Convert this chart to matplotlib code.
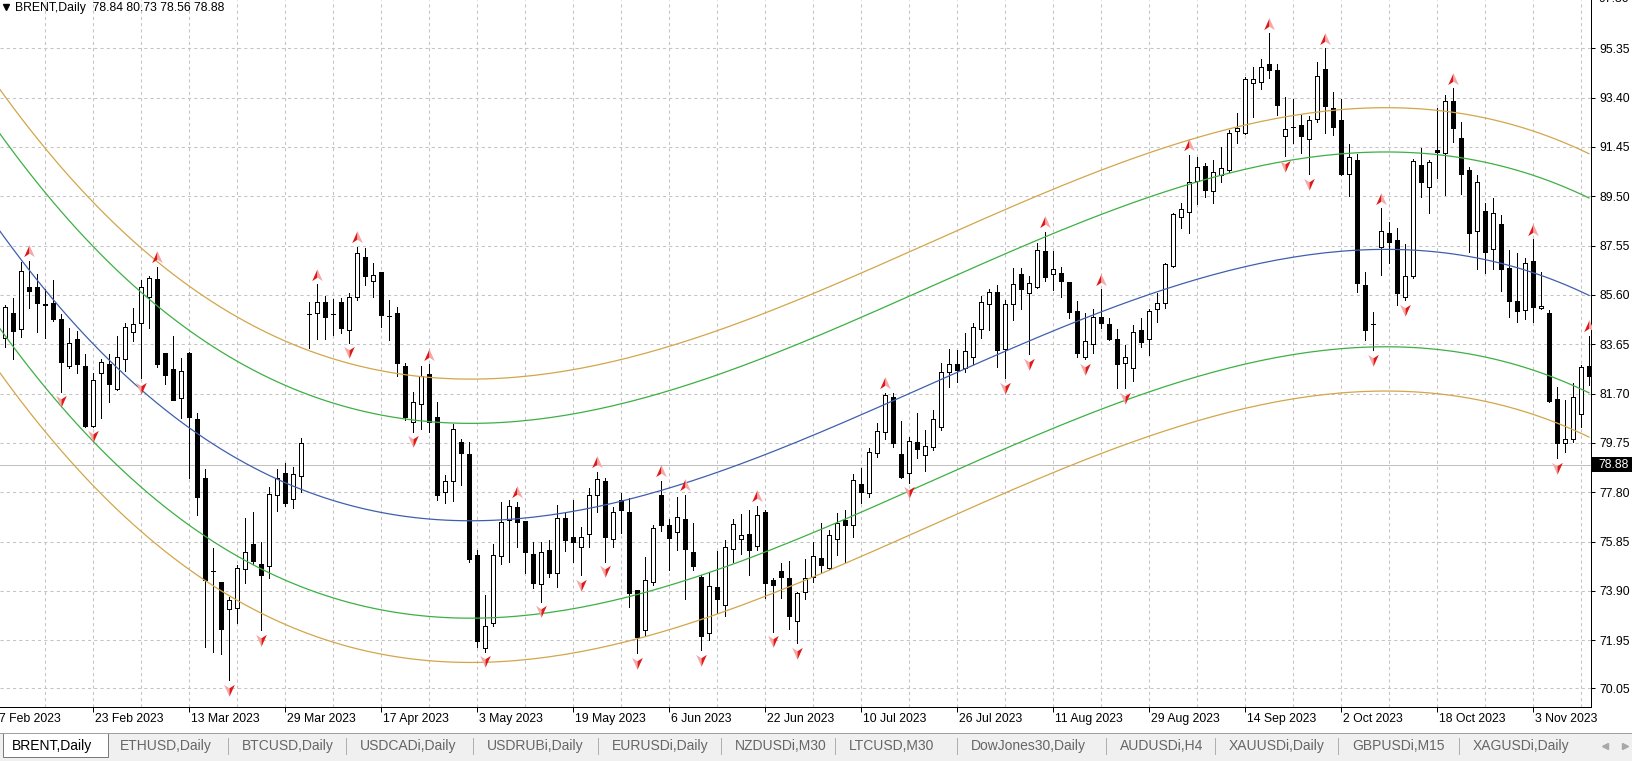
import numpy as np
import matplotlib
matplotlib.use("Agg")
import matplotlib.pyplot as plt
from matplotlib.path import Path
from matplotlib.patches import Rectangle
from matplotlib.lines import Line2D

plt.rcParams['font.family'] = ['Liberation Sans', 'DejaVu Sans']

# ---- data ----
symbol = "BRENT,Daily"
last_ohlc = [78.84, 80.73, 78.56, 78.88]
bid = 78.88

# daily bars, bar 0 = 8 Feb 2023
opens = [
    83.88, 84.87, 84.24, 85.90, 85.90, 85.23, 85.27, 84.63, 82.79, 83.84,
    82.79, 80.42, 82.53, 82.87, 81.88, 83.05, 84.12, 84.50, 85.53, 86.21,
    83.29, 82.66, 81.51, 83.29, 80.68, 78.35, 74.70, 74.24, 73.17, 73.21,
    74.75, 75.75, 74.96, 74.89, 77.69, 78.55, 77.53, 78.44, 84.84, 84.90,
    85.31, 84.83, 85.33, 84.21, 85.53, 87.11, 86.15, 86.49, 84.77, 84.87,
    82.79, 80.59, 81.29, 82.46, 80.76, 77.80, 78.26, 79.77, 79.31, 75.32,
    71.63, 72.62, 75.28, 76.70, 77.23, 76.66, 75.36, 74.17, 75.52, 74.59,
    76.77, 76.02, 75.65, 76.15, 77.69, 78.24, 75.94, 77.49, 77.03, 73.94,
    72.35, 74.26, 77.69, 76.50, 76.21, 76.73, 75.45, 74.46, 72.25, 74.04,
    73.34, 75.54, 75.94, 76.15, 75.67, 77.00, 74.33, 74.69, 74.40, 72.72,
    73.87, 74.46, 75.19, 74.79, 75.94, 76.70, 76.50, 78.11, 77.76, 79.34,
    80.17, 81.58, 79.31, 78.55, 79.77, 79.27, 79.57, 80.39, 82.56, 82.87,
    82.70, 83.16, 84.24, 85.24, 85.73, 83.45, 85.24, 86.41, 85.69, 85.93,
    87.33, 86.41, 86.45, 86.10, 84.96, 83.16, 83.66, 84.74, 84.45, 83.86,
    82.89, 82.70, 84.21, 83.84, 85.03, 85.27, 86.74, 88.69, 88.89, 90.10,
    90.69, 89.72, 90.34, 90.54, 92.09, 92.01, 93.99, 94.00, 94.73, 94.49,
    91.88, 92.22, 92.31, 91.78, 92.56, 94.53, 92.98, 92.51, 90.36, 90.93,
    85.99, 84.45, 87.50, 88.06, 87.77, 85.53, 86.34, 90.73, 89.87, 91.32,
    91.22, 93.26, 91.82, 90.53, 88.13, 88.91, 87.40, 88.40, 86.67, 85.35,
    85.00, 86.94, 85.09, 84.87, 81.47, 79.75, 79.90, 80.89, 82.79,
]
highs = [
    85.20, 85.46, 86.89, 86.94, 86.43, 85.82, 86.19, 84.83, 84.28, 84.17,
    83.25, 82.50, 83.07, 83.25, 83.97, 84.50, 85.09, 86.19, 86.35, 86.72,
    83.29, 83.97, 83.09, 83.36, 80.92, 78.70, 75.58, 74.24, 73.67, 74.92,
    76.77, 77.03, 75.85, 78.02, 78.70, 78.97, 78.81, 79.93, 85.33, 86.02,
    85.56, 85.42, 85.49, 85.66, 87.51, 87.47, 86.85, 86.49, 85.40, 85.13,
    82.89, 81.77, 82.79, 82.85, 81.35, 78.48, 80.48, 79.89, 79.77, 75.52,
    73.74, 75.75, 77.43, 77.49, 77.43, 76.66, 75.85, 75.82, 75.91, 77.29,
    76.97, 77.49, 76.44, 77.95, 78.61, 78.38, 77.23, 77.78, 77.56, 73.94,
    75.23, 76.50, 78.24, 76.73, 77.62, 77.69, 76.57, 74.53, 74.66, 75.49,
    75.91, 76.73, 76.93, 77.10, 77.26, 77.10, 74.40, 74.99, 75.09, 73.87,
    75.15, 75.85, 76.60, 76.31, 76.97, 77.10, 78.52, 78.77, 79.53, 80.55,
    81.73, 81.71, 80.63, 79.97, 80.92, 80.26, 81.05, 82.89, 83.45, 83.42,
    84.08, 84.48, 85.57, 85.82, 85.99, 85.40, 86.65, 86.68, 86.35, 87.64,
    88.10, 87.35, 86.69, 86.10, 85.36, 84.87, 85.03, 85.82, 84.67, 84.24,
    83.62, 84.41, 84.67, 85.03, 85.66, 86.87, 88.85, 89.22, 91.13, 91.06,
    90.83, 90.93, 91.46, 92.12, 92.80, 94.23, 94.59, 94.91, 95.94, 94.73,
    93.41, 93.33, 92.71, 92.67, 94.82, 95.35, 93.60, 93.33, 91.56, 91.15,
    86.51, 84.91, 89.02, 88.49, 88.23, 87.61, 90.99, 91.39, 90.93, 92.97,
    93.50, 93.76, 92.44, 90.64, 90.33, 89.25, 89.41, 88.75, 87.37, 87.24,
    87.04, 87.80, 86.49, 85.00, 81.97, 81.44, 82.10, 82.82, 83.97,
]
lows = [
    83.53, 83.05, 83.92, 85.07, 84.15, 83.88, 84.58, 81.77, 82.70, 82.53,
    80.39, 80.39, 80.72, 81.38, 81.84, 82.60, 83.79, 82.30, 84.30, 82.76,
    82.06, 81.44, 80.72, 78.35, 76.90, 71.67, 71.50, 71.40, 70.38, 72.62,
    74.22, 74.96, 72.35, 74.40, 77.07, 77.26, 77.16, 77.82, 83.49, 83.84,
    83.84, 84.01, 84.08, 83.71, 85.40, 85.99, 85.50, 84.34, 83.82, 82.39,
    80.65, 80.19, 80.29, 80.19, 77.49, 77.36, 77.45, 78.09, 75.06, 71.70,
    71.50, 72.51, 74.95, 75.06, 75.65, 74.59, 74.00, 73.47, 74.46, 74.07,
    75.49, 75.06, 74.53, 75.65, 77.03, 75.06, 75.65, 76.17, 73.28, 71.43,
    72.16, 74.13, 76.27, 74.73, 75.52, 73.57, 74.73, 71.56, 71.96, 73.01,
    72.91, 75.06, 75.36, 74.53, 75.52, 73.61, 72.29, 73.61, 72.38, 71.83,
    73.57, 74.26, 74.59, 74.75, 75.32, 75.06, 76.02, 77.39, 77.62, 79.20,
    79.89, 79.60, 78.35, 78.18, 79.14, 78.65, 79.47, 80.26, 81.95, 82.17,
    82.56, 82.87, 83.88, 84.21, 82.74, 82.30, 84.61, 85.03, 83.26, 85.86,
    86.16, 85.79, 85.50, 84.67, 83.16, 83.05, 83.29, 84.30, 83.82, 81.91,
    81.91, 82.21, 83.53, 83.22, 84.54, 85.07, 86.69, 88.23, 88.03, 89.19,
    89.46, 89.24, 90.05, 90.47, 91.59, 91.96, 92.62, 93.74, 94.16, 92.71,
    91.09, 91.59, 91.19, 90.37, 92.45, 91.99, 91.92, 90.33, 89.50, 85.72,
    83.81, 83.42, 86.38, 86.84, 85.20, 85.39, 86.25, 89.48, 88.82, 90.20,
    89.54, 91.65, 89.58, 87.28, 86.62, 86.47, 86.61, 85.76, 84.73, 84.54,
    84.63, 84.54, 85.03, 81.38, 79.14, 79.40, 79.79, 80.39, 82.03,
]
closes = [
    85.11, 84.19, 86.54, 85.77, 85.29, 85.20, 84.63, 82.96, 83.68, 82.85,
    80.42, 82.24, 82.96, 82.06, 83.13, 84.34, 84.44, 85.90, 86.25, 82.85,
    82.43, 81.44, 82.60, 80.76, 77.60, 74.33, 74.70, 72.38, 73.54, 74.79,
    75.45, 75.09, 74.53, 77.73, 78.35, 77.36, 78.51, 79.76, 84.84, 85.31,
    84.74, 84.83, 84.28, 85.53, 87.24, 86.35, 86.39, 84.79, 84.77, 82.89,
    80.79, 81.38, 82.41, 80.59, 77.69, 78.24, 80.29, 79.36, 75.16, 71.93,
    72.51, 75.32, 76.64, 77.26, 76.64, 75.45, 74.20, 75.42, 74.59, 76.77,
    75.91, 75.85, 76.02, 77.69, 78.31, 76.02, 77.03, 77.10, 73.80, 72.09,
    74.33, 76.37, 76.50, 75.98, 76.81, 75.54, 74.90, 72.12, 74.11, 73.57,
    75.62, 76.54, 76.11, 75.52, 76.90, 74.20, 74.13, 74.46, 72.91, 73.80,
    74.40, 75.28, 74.92, 76.11, 76.60, 76.50, 78.28, 77.82, 79.38, 80.22,
    81.64, 79.73, 78.41, 79.82, 79.50, 79.64, 80.69, 82.56, 82.87, 82.63,
    83.40, 84.32, 85.31, 85.73, 83.42, 85.23, 86.02, 85.82, 86.06, 87.37,
    86.32, 86.62, 86.16, 84.94, 83.32, 83.78, 84.74, 84.50, 83.86, 82.87,
    83.13, 84.12, 83.75, 84.96, 85.27, 86.82, 88.80, 88.98, 90.05, 90.64,
    89.75, 90.47, 90.60, 91.99, 92.21, 94.12, 94.12, 94.62, 94.49, 93.11,
    92.16, 92.22, 91.88, 92.51, 94.26, 93.07, 92.22, 90.37, 91.03, 86.05,
    84.23, 84.45, 88.13, 87.70, 85.68, 86.34, 90.89, 90.07, 90.84, 91.26,
    93.26, 92.21, 90.37, 88.03, 90.05, 87.30, 88.82, 86.61, 85.37, 84.97,
    86.84, 85.13, 85.17, 81.41, 79.75, 79.89, 81.55, 82.73, 82.39,
]

# regression centre line at these bars
mid_bars = [0, 23, 35, 40, 47, 59, 71, 77, 89, 101, 113, 125, 137, 149,
            160, 169, 175, 187, 198]
mid_vals = [87.80, 80.40, 78.15, 77.60, 77.00, 76.70, 77.07, 77.50, 78.55,
            80.00, 81.70, 83.20, 84.80, 86.40, 87.10, 87.40, 87.44, 86.84,
            85.50]
# channel widths (price units)
band_inner = 3.85
band_outer = 5.60

# fractal arrows (bar indices)
up_fractals = [3, 19, 39, 44, 53, 64, 74, 82, 85, 94, 110, 130, 137, 148,
               158, 165, 172, 181, 191, 198]
down_fractals = [7, 11, 17, 28, 32, 43, 51, 60, 67, 72, 75, 79, 87, 96, 99,
                 113, 125, 128, 135, 140, 160, 163, 171, 175, 194]

date_bars = [-1, 11, 23, 35, 47, 59, 71, 83, 95, 107, 119, 131, 143, 155,
             167, 179, 191]
date_labels = ["7 Feb 2023", "23 Feb 2023", "13 Mar 2023", "29 Mar 2023",
               "17 Apr 2023", "3 May 2023", "19 May 2023", "6 Jun 2023",
               "22 Jun 2023", "10 Jul 2023", "26 Jul 2023", "11 Aug 2023",
               "29 Aug 2023", "14 Sep 2023", "2 Oct 2023", "18 Oct 2023",
               "3 Nov 2023"]
price_ticks = [97.30, 95.35, 93.40, 91.45, 89.50, 87.55, 85.60, 83.65,
               81.70, 79.75, 77.80, 75.85, 73.90, 71.95, 70.05]

tabs = ["BRENT,Daily", "ETHUSD,Daily", "BTCUSD,Daily", "USDCADi,Daily",
        "USDRUBi,Daily", "EURUSDi,Daily", "NZDUSDi,M30", "LTCUSD,M30",
        "DowJones30,Daily", "AUDUSDi,H4", "XAUUSDi,Daily", "GBPUSDi,M15",
        "XAGUSDi,Daily"]

# ---- layout ----
W, H = 1633, 761
tab_x = [12, 120, 242, 360, 487, 612, 735, 849, 971, 1120, 1229, 1352, 1473]
px = 1.0 / 100 * 72  # one pixel in points
x0, x1 = -0.625, 198.25
y0, y1 = 69.31, 97.255

fig = plt.figure(figsize=(W / 100, H / 100), dpi=100)
ax = fig.add_axes([0, 1 - 707 / H, 1591 / W, 707 / H])
ax.set_xlim(x0, x1)
ax.set_ylim(y0, y1)

o = np.array(opens)
h = np.array(highs)
l = np.array(lows)
c = np.array(closes)
k = np.arange(len(c))

# grid
grid_kw = dict(color='#c4c4c4', lw=0.75, ls=(0, (3, 3)), zorder=0)
for p in price_ticks:
    ax.axhline(p, **grid_kw)
for g in range(5, 199, 6):
    ax.axvline(g, **grid_kw)

ax.axhline(bid, color='#c0c0c0', lw=px, zorder=1)

# candles
ax.vlines(k, l, h, color='black', lw=px, zorder=2, antialiased=False)
bull = c >= o
bottom = np.minimum(o, c)
height = np.abs(c - o)
ax.bar(k[bull], height[bull], bottom=bottom[bull], width=0.55,
       facecolor='white', edgecolor='black', linewidth=px, zorder=3,
       antialiased=False)
ax.bar(k[~bull], height[~bull], bottom=bottom[~bull], width=0.55,
       facecolor='black', edgecolor='black', linewidth=px, zorder=3,
       antialiased=False)

# cubic regression channel through the read centre line
coef = np.polyfit(mid_bars, mid_vals, 3)
xs = np.concatenate(([x0], k))
mid = np.polyval(coef, xs)
ax.plot(xs, mid, color='#3f5fae', lw=0.9, zorder=4)
for off, col in ((band_inner, '#3cb043'), (band_outer, '#d2a64a')):
    ax.plot(xs, mid + off, color=col, lw=0.9, zorder=4)
    ax.plot(xs, mid - off, color=col, lw=0.9, zorder=4)

# fractal arrows
left_up = Path([(0, 1), (-0.85, -0.9), (0, -0.35), (0, 1)])
right_up = Path([(0, 1), (0, -0.35), (0.85, -0.9), (0, 1)])
left_dn = Path([(0, -1), (-0.85, 0.9), (0, 0.35), (0, -1)])
right_dn = Path([(0, -1), (0, 0.35), (0.85, 0.9), (0, -1)])
gap = 0.38
ui = np.array(up_fractals)
di = np.array(down_fractals)
ms = 9
ax.plot(ui, h[ui] + gap, ls='none', marker=left_up, ms=ms,
        mfc='#e01818', mec='none', zorder=5)
ax.plot(ui, h[ui] + gap, ls='none', marker=right_up, ms=ms,
        mfc='#f4a8a8', mec='none', zorder=5)
ax.plot(di, l[di] - gap, ls='none', marker=left_dn, ms=ms,
        mfc='#f4a8a8', mec='none', zorder=5)
ax.plot(di, l[di] - gap, ls='none', marker=right_dn, ms=ms,
        mfc='#e01818', mec='none', zorder=5)

# axes
for s in ('top', 'left'):
    ax.spines[s].set_visible(False)
for s in ('right', 'bottom'):
    ax.spines[s].set_linewidth(px)
    ax.spines[s].set_color('black')
ax.yaxis.tick_right()
vis = [p for p in price_ticks if y0 <= p <= y1]
ax.set_yticks(vis)
ax.set_yticklabels(['%.2f' % p for p in vis])
ax.tick_params(axis='y', direction='out', length=3, width=px, pad=3,
               labelsize=8.8, colors='black')
ax.annotate('%.2f' % price_ticks[0], xy=(1, price_ticks[0]),
            xycoords=('axes fraction', 'data'), xytext=(7, 0),
            textcoords='offset pixels', va='center', ha='left', fontsize=8.8,
            annotation_clip=False)
ax.set_xticks([b for b in date_bars if b >= 0])
ax.set_xticklabels([])
ax.tick_params(axis='x', direction='out', length=3.5, width=px)
for b, lab in zip(date_bars, date_labels):
    ax.annotate(lab, xy=(b, 0), xycoords=('data', 'axes fraction'),
                xytext=(2, -12), textcoords='offset pixels', ha='left',
                va='center', fontsize=8.8, annotation_clip=False)

# title
fig.add_artist(Line2D([6 / W], [1 - 7 / H], marker='v', ms=5, color='black',
                      transform=fig.transFigure))
fig.text(15 / W, 1 - 7.5 / H,
         symbol + '  ' + ' '.join('%.2f' % v for v in last_ohlc),
         fontsize=8.8, ha='left', va='center')

# bid label box
fig.canvas.draw()
yb = ax.transData.transform((0, bid))[1]
fig.add_artist(Rectangle((1592 / W, (yb - 7.5) / H), 41 / W, 15 / H,
                         transform=fig.transFigure, fc='black', ec='none'))
fig.text(1598 / W, yb / H, '%.2f' % bid, color='white', fontsize=8.8,
         ha='left', va='center')

# tab strip
fig.add_artist(Rectangle((0, 0), 1, 28 / H, transform=fig.transFigure,
                         fc='#f0f0f0', ec='none'))
fig.add_artist(Line2D([0, 1], [28 / H, 28 / H], color='#a0a0a0', lw=px,
                      transform=fig.transFigure))
fig.add_artist(Rectangle((3 / W, 4 / H), 105 / W, 24 / H,
                         transform=fig.transFigure, fc='white', ec='#7a7a7a',
                         lw=px))
for i, (name, x) in enumerate(zip(tabs, tab_x)):
    fig.text(x / W, 15 / H, name, fontsize=10, ha='left', va='center',
             color='black' if i == 0 else '#666666')
    if i >= 2:
        sx = (x - 14) / W
        fig.add_artist(Line2D([sx, sx], [7 / H, 23 / H], color='#b0b0b0',
                              lw=px, transform=fig.transFigure))
fig.add_artist(Line2D([1605 / W], [15 / H], marker='<', ms=4, color='#a8a8a8',
                      ls='none', transform=fig.transFigure))
fig.add_artist(Line2D([1625 / W], [15 / H], marker='>', ms=4, color='#a8a8a8',
                      ls='none', transform=fig.transFigure))

fig.savefig('out.png', dpi=100)
